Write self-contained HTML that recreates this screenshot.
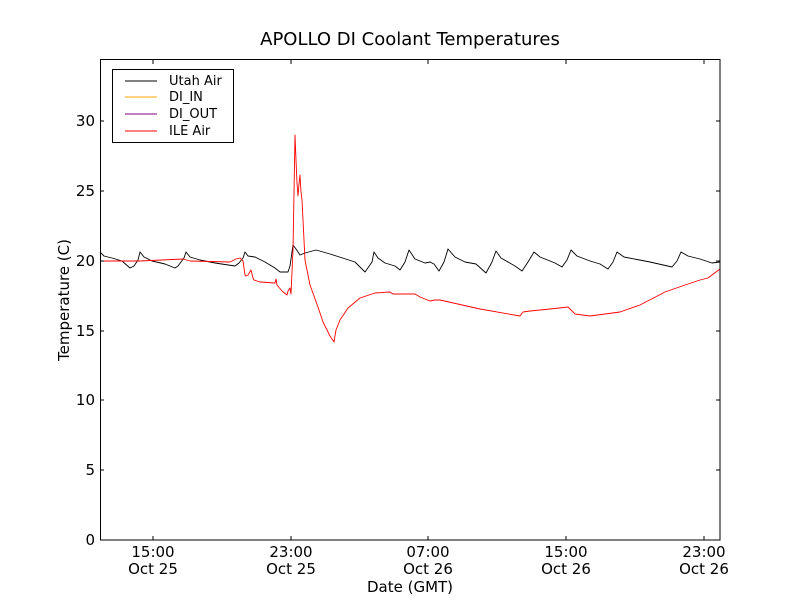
<!DOCTYPE html>
<html><head><meta charset="utf-8"><style>body{margin:0;background:#fff}svg{display:block}text{font-family:"DejaVu Sans","Liberation Sans",sans-serif}</style></head><body>
<svg width="800" height="600" viewBox="0 0 800 600">
<rect x="0" y="0" width="800" height="600" fill="#fff"/>
<text x="410" y="45" font-size="18" text-anchor="middle">APOLLO DI Coolant Temperatures</text>
<g fill="none" stroke-width="0.9" stroke-linejoin="round">
<polyline stroke="#000" points="100,252 104,256 112,258 122,261 130,268 134,266 138,260 140,252 144,257 152,261 165,264 175,268 178,266 184,258 186,252 190,257 200,260 215,263 235,266 239,263 243,258 245,252 248,256 255,257 265,262 275,268 280,272 288,272 290,266 293,245 296,249 300,255 305,253 316,250 330,254 355,262 365,272 372,262 374,252 378,258 385,263 395,266 400,270 405,262 409,250 415,259 425,263 430,262 434,264 439,271 444,262 448,249 455,257 465,262 476,264 486,273 492,262 496,251 501,258 515,266 522,271 528,262 534,252 540,257 555,263 562,267 567,260 571,250 577,256 590,261 600,264 608,269 613,262 617,252 624,257 650,262 672,267 677,261 681,252 688,256 700,259 712,263 720,262"/>
<polyline stroke="#f00" points="100,261 140,261 183,259 190,261 230,262 236,259 240,258 243,261 245,275 246,276 248,275 251,270 253,278 254,280 260,282 275,283 276,279 277,285 282,291 287,295 288,291 290,288 291,294 293,250 295,135 296,160 297,183 298,196 299,184 300,175 301,192 302,200 305,260 310,285 318,307 323,322 330,336 334,342 336,330 340,320 348,308 360,298 375,293 390,292 393,294 400,294 415,294 420,297 430,301 435,300 440,300 480,309 520,316 523,312 530,311 550,309 568,307 575,314 590,316 620,312 640,305 665,292 685,285 700,280 708,278 720,269"/>
</g>
<rect x="100.5" y="59.5" width="619.5" height="480.5" fill="none" stroke="#000" stroke-width="1"/>
<g stroke="#000" stroke-width="1">
<line x1="100" y1="540" x2="104" y2="540"/><line x1="100" y1="470" x2="104" y2="470"/><line x1="100" y1="400" x2="104" y2="400"/><line x1="100" y1="331" x2="104" y2="331"/><line x1="100" y1="261" x2="104" y2="261"/><line x1="100" y1="191" x2="104" y2="191"/><line x1="100" y1="121" x2="104" y2="121"/>
<line x1="720" y1="540" x2="716" y2="540"/><line x1="720" y1="470" x2="716" y2="470"/><line x1="720" y1="400" x2="716" y2="400"/><line x1="720" y1="331" x2="716" y2="331"/><line x1="720" y1="261" x2="716" y2="261"/><line x1="720" y1="191" x2="716" y2="191"/><line x1="720" y1="121" x2="716" y2="121"/>
<line x1="153" y1="540" x2="153" y2="536"/><line x1="291" y1="540" x2="291" y2="536"/><line x1="428" y1="540" x2="428" y2="536"/><line x1="566" y1="540" x2="566" y2="536"/><line x1="704" y1="540" x2="704" y2="536"/>
<line x1="153" y1="60" x2="153" y2="64"/><line x1="291" y1="60" x2="291" y2="64"/><line x1="428" y1="60" x2="428" y2="64"/><line x1="566" y1="60" x2="566" y2="64"/><line x1="704" y1="60" x2="704" y2="64"/>
</g>
<g font-size="15" text-anchor="end">
<text x="95" y="545">0</text><text x="95" y="475">5</text><text x="95" y="405">10</text><text x="95" y="336">15</text><text x="95" y="266">20</text><text x="95" y="196">25</text><text x="95" y="126">30</text>
</g>
<g font-size="15" text-anchor="middle">
<text x="153" y="557">15:00</text><text x="153" y="574">Oct 25</text>
<text x="291" y="557">23:00</text><text x="291" y="574">Oct 25</text>
<text x="428" y="557">07:00</text><text x="428" y="574">Oct 26</text>
<text x="566" y="557">15:00</text><text x="566" y="574">Oct 26</text>
<text x="704" y="557">23:00</text><text x="704" y="574">Oct 26</text>
<text x="410" y="592">Date (GMT)</text>
</g>
<text x="0" y="0" font-size="15" text-anchor="middle" transform="translate(69,300) rotate(-90)">Temperature (C)</text>
<rect x="112.5" y="69.5" width="121" height="73" fill="#fff" stroke="#000" stroke-width="1"/>
<g stroke-width="1"><line x1="125" y1="81" x2="157" y2="81" stroke="#000"/><line x1="125" y1="97" x2="157" y2="97" stroke="#ffa500"/><line x1="125" y1="114" x2="157" y2="114" stroke="#800080"/><line x1="125" y1="131" x2="157" y2="131" stroke="#f00"/></g>
<g font-size="13"><text x="169" y="85">Utah Air</text><text x="169" y="101">DI_IN</text><text x="169" y="118">DI_OUT</text><text x="169" y="135">ILE Air</text></g>
</svg>
</body></html>
